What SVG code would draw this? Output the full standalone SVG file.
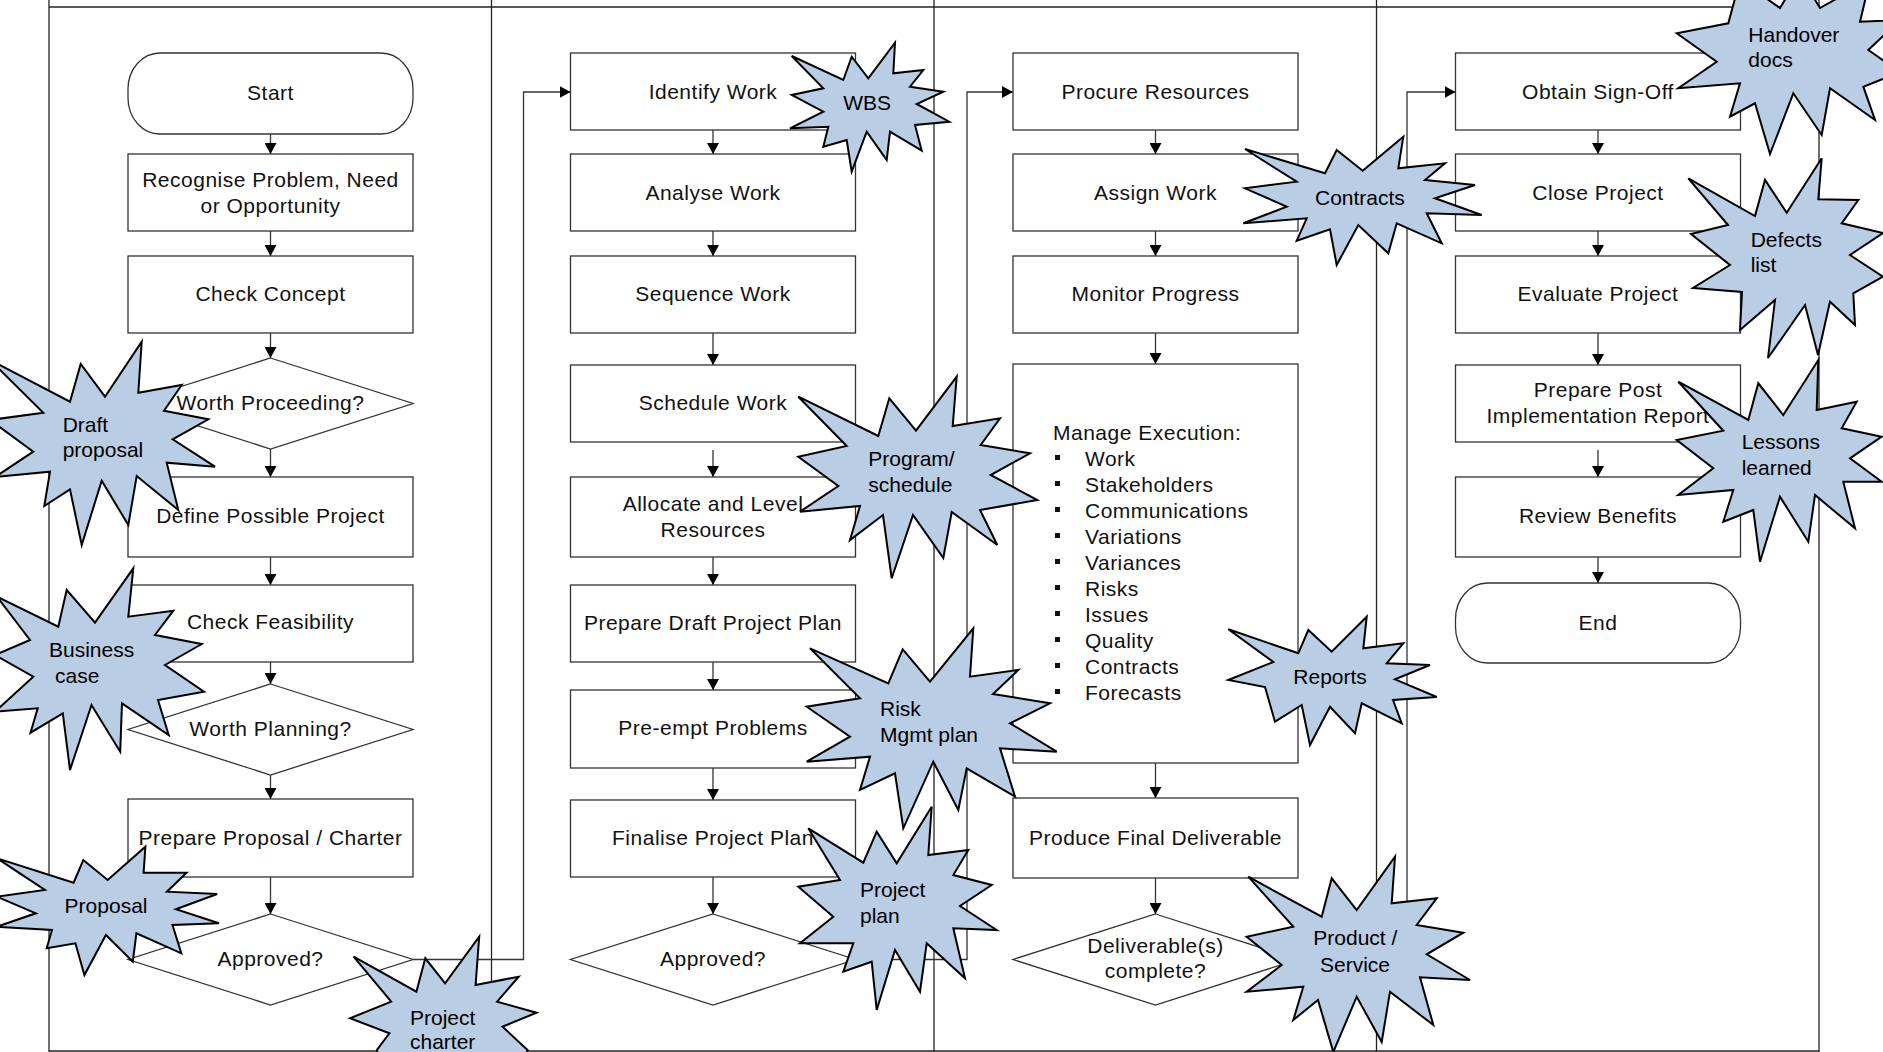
<svg xmlns="http://www.w3.org/2000/svg" width="1883" height="1052" viewBox="0 0 1883 1052">
<defs>
<style>
.lane{stroke:#222;stroke-width:1.3;fill:none}
.box{fill:#fff;stroke:#333;stroke-width:1.3}
.t{font-family:"Liberation Sans",Arial,sans-serif;font-size:21px;letter-spacing:0.5px;fill:#111;text-anchor:middle}
.tl{font-family:"Liberation Sans",Arial,sans-serif;font-size:21px;letter-spacing:0.5px;fill:#111}
.conn{stroke:#333;stroke-width:1.3;fill:none}
.star{fill:#b9cde5;stroke:#000;stroke-width:2;stroke-linejoin:miter}
.st{font-family:"Liberation Sans",Arial,sans-serif;font-size:21px;fill:#000}
</style>
<marker id="arr" viewBox="0 0 12 12" refX="11" refY="6" markerWidth="12" markerHeight="12" markerUnits="userSpaceOnUse" orient="auto"><path d="M0,0 L11,6 L0,12 z" fill="#000"/></marker>
</defs>
<rect width="1883" height="1052" fill="#fff"/>
<g id="lanes" class="lane">
<line x1="49" y1="0" x2="49" y2="1052"/>
<line x1="491.5" y1="0" x2="491.5" y2="1052"/>
<line x1="934" y1="0" x2="934" y2="1052"/>
<line x1="1376.5" y1="0" x2="1376.5" y2="1052"/>
<line x1="1819" y1="0" x2="1819" y2="1052"/>
<line x1="49" y1="7" x2="1819" y2="7"/>
<line x1="49" y1="1051" x2="1819" y2="1051"/>
</g>
<g id="connectors" class="conn">
<path d="M270.5,134V154" marker-end="url(#arr)"/>
<path d="M270.5,231V256" marker-end="url(#arr)"/>
<path d="M270.5,333V358" marker-end="url(#arr)"/>
<path d="M270.5,449V477" marker-end="url(#arr)"/>
<path d="M270.5,557V585" marker-end="url(#arr)"/>
<path d="M270.5,662V684" marker-end="url(#arr)"/>
<path d="M270.5,775V799" marker-end="url(#arr)"/>
<path d="M270.5,877V914" marker-end="url(#arr)"/>
<path d="M413,959.5H523.5V92H570.5" marker-end="url(#arr)"/>
<path d="M713,130V154" marker-end="url(#arr)"/>
<path d="M713,231V256" marker-end="url(#arr)"/>
<path d="M713,333V365" marker-end="url(#arr)"/>
<path d="M713,450V477" marker-end="url(#arr)"/>
<path d="M713,557V585" marker-end="url(#arr)"/>
<path d="M713,662V690" marker-end="url(#arr)"/>
<path d="M713,768V800" marker-end="url(#arr)"/>
<path d="M713,877V914" marker-end="url(#arr)"/>
<path d="M855.5,959.5H967V92H1013" marker-end="url(#arr)"/>
<path d="M1155.5,130V154" marker-end="url(#arr)"/>
<path d="M1155.5,231V256" marker-end="url(#arr)"/>
<path d="M1155.5,333V364" marker-end="url(#arr)"/>
<path d="M1155.5,763V798" marker-end="url(#arr)"/>
<path d="M1155.5,878V914" marker-end="url(#arr)"/>
<path d="M1298,959.5H1407V92H1455.5" marker-end="url(#arr)"/>
<path d="M1598,130V154" marker-end="url(#arr)"/>
<path d="M1598,231V256" marker-end="url(#arr)"/>
<path d="M1598,333V365" marker-end="url(#arr)"/>
<path d="M1598,450V477" marker-end="url(#arr)"/>
<path d="M1598,557V583" marker-end="url(#arr)"/>
</g>
<g id="n-start"><rect class="box" x="128" y="53" width="285" height="81" rx="32" ry="36"/><text class="t" x="270.5" y="100">Start</text></g>
<g id="n-recognise"><rect class="box" x="128" y="154" width="285" height="77"/><text class="t" x="270.5" y="187">Recognise Problem, Need</text><text class="t" x="270.5" y="213">or Opportunity</text></g>
<g id="n-concept"><rect class="box" x="128" y="256" width="285" height="77"/><text class="t" x="270.5" y="301">Check Concept</text></g>
<g id="n-worth-proceeding"><polygon class="box" points="270.5,358 413,403.5 270.5,449 128,403.5"/><text class="t" x="270.5" y="410">Worth Proceeding?</text></g>
<g id="n-define"><rect class="box" x="128" y="477" width="285" height="80"/><text class="t" x="270.5" y="523">Define Possible Project</text></g>
<g id="n-feasibility"><rect class="box" x="128" y="585" width="285" height="77"/><text class="t" x="270.5" y="629">Check Feasibility</text></g>
<g id="n-worth-planning"><polygon class="box" points="270.5,684 413,729.5 270.5,775 128,729.5"/><text class="t" x="270.5" y="736">Worth Planning?</text></g>
<g id="n-proposal"><rect class="box" x="128" y="799" width="285" height="78"/><text class="t" x="270.5" y="845">Prepare Proposal / Charter</text></g>
<g id="n-approved1"><polygon class="box" points="270.5,914 413,959.5 270.5,1005 128,959.5"/><text class="t" x="270.5" y="966">Approved?</text></g>

<g id="n-identify"><rect class="box" x="570.5" y="53" width="285" height="77"/><text class="t" x="713" y="99">Identify Work</text></g>
<g id="n-analyse"><rect class="box" x="570.5" y="154" width="285" height="77"/><text class="t" x="713" y="200">Analyse Work</text></g>
<g id="n-sequence"><rect class="box" x="570.5" y="256" width="285" height="77"/><text class="t" x="713" y="301">Sequence Work</text></g>
<g id="n-schedule"><rect class="box" x="570.5" y="365" width="285" height="77"/><text class="t" x="713" y="410">Schedule Work</text></g>
<g id="n-allocate"><rect class="box" x="570.5" y="477" width="285" height="80"/><text class="t" x="713" y="511">Allocate and Level</text><text class="t" x="713" y="537">Resources</text></g>
<g id="n-draftplan"><rect class="box" x="570.5" y="585" width="285" height="77"/><text class="t" x="713" y="630">Prepare Draft Project Plan</text></g>
<g id="n-preempt"><rect class="box" x="570.5" y="690" width="285" height="78"/><text class="t" x="713" y="735">Pre-empt Problems</text></g>
<g id="n-finalise"><rect class="box" x="570.5" y="800" width="285" height="77"/><text class="t" x="713" y="845">Finalise Project Plan</text></g>
<g id="n-approved2"><polygon class="box" points="713,914 855.5,959.5 713,1005 570.5,959.5"/><text class="t" x="713" y="966">Approved?</text></g>

<g id="n-procure"><rect class="box" x="1013" y="53" width="285" height="77"/><text class="t" x="1155.5" y="99">Procure Resources</text></g>
<g id="n-assign"><rect class="box" x="1013" y="154" width="285" height="77"/><text class="t" x="1155.5" y="200">Assign Work</text></g>
<g id="n-monitor"><rect class="box" x="1013" y="256" width="285" height="77"/><text class="t" x="1155.5" y="301">Monitor Progress</text></g>
<g id="n-manage"><rect class="box" x="1013" y="364" width="285" height="399"/>
<text class="tl" x="1053" y="440">Manage Execution:</text>
<g fill="#111"><rect x="1055" y="455" width="5" height="5"/><rect x="1055" y="481" width="5" height="5"/><rect x="1055" y="507" width="5" height="5"/><rect x="1055" y="533" width="5" height="5"/><rect x="1055" y="559" width="5" height="5"/><rect x="1055" y="585" width="5" height="5"/><rect x="1055" y="611" width="5" height="5"/><rect x="1055" y="637" width="5" height="5"/><rect x="1055" y="663" width="5" height="5"/><rect x="1055" y="689" width="5" height="5"/></g>
<text class="tl" x="1085" y="466">Work</text><text class="tl" x="1085" y="492">Stakeholders</text><text class="tl" x="1085" y="518">Communications</text><text class="tl" x="1085" y="544">Variations</text><text class="tl" x="1085" y="570">Variances</text><text class="tl" x="1085" y="596">Risks</text><text class="tl" x="1085" y="622">Issues</text><text class="tl" x="1085" y="648">Quality</text><text class="tl" x="1085" y="674">Contracts</text><text class="tl" x="1085" y="700">Forecasts</text></g>
<g id="n-produce"><rect class="box" x="1013" y="798" width="285" height="80"/><text class="t" x="1155.5" y="845">Produce Final Deliverable</text></g>
<g id="n-complete"><polygon class="box" points="1155.5,914 1298,959.5 1155.5,1005 1013,959.5"/><text class="t" x="1155.5" y="953">Deliverable(s)</text><text class="t" x="1155.5" y="978">complete?</text></g>

<g id="n-signoff"><rect class="box" x="1455.5" y="53" width="285" height="77"/><text class="t" x="1598" y="99">Obtain Sign-Off</text></g>
<g id="n-close"><rect class="box" x="1455.5" y="154" width="285" height="77"/><text class="t" x="1598" y="200">Close Project</text></g>
<g id="n-evaluate"><rect class="box" x="1455.5" y="256" width="285" height="77"/><text class="t" x="1598" y="301">Evaluate Project</text></g>
<g id="n-pir"><rect class="box" x="1455.5" y="365" width="285" height="77"/><text class="t" x="1598" y="397">Prepare Post</text><text class="t" x="1598" y="423">Implementation Report</text></g>
<g id="n-benefits"><rect class="box" x="1455.5" y="477" width="285" height="80"/><text class="t" x="1598" y="523">Review Benefits</text></g>
<g id="n-end"><rect class="box" x="1455.5" y="583" width="285" height="80" rx="32" ry="36"/><text class="t" x="1598" y="630">End</text></g>

<g id="s-draft"><polygon class="star" points="-10,360 70,401.7 80.7,364 105,396.7 141.7,341.7 138.3,392.7 181.7,385 164,410.7 208.3,419.3 172.7,439.3 215,466.7 166.7,462.7 178.3,510 136.7,476 128.3,525 101.7,480.7 81.7,545 70,489.3 44.3,506 50,471.7 -5,477 33.3,451.7 -10,420 43.3,412.7"/><text class="st" x="62.7" y="431.7">Draft</text><text class="st" x="62.7" y="457.3">proposal</text></g>
<g id="s-business"><polygon class="star" points="133.3,568.3 128.3,616.7 173.3,610.7 155,635 201.7,644 165,665 204,691.7 158,700 168.7,735 122,703.3 120.2,751.7 91.5,705 70,770 62.8,713.3 30.5,732.7 37.7,708.3 -5,711.7 33.3,676.7 -5,655 30,640 -3,596.7 58.3,626.7 66.7,590 95,622.7"/><text class="st" x="49" y="657.3">Business</text><text class="st" x="55" y="683.3">case</text></g>
<g id="s-proposal"><polygon class="star" points="145.4,846.7 143.6,872.7 186.6,872.7 166.9,891.7 217.2,894 175.9,909.3 219,923.3 172.5,925 181.3,953.3 136.4,933.3 132.8,961.7 105.9,935 84.4,975 75.4,943.3 46.7,948.3 52,930 -3,926.7 35.9,913.3 -3,896.7 44.9,890 -3,858.3 73.6,882.7 83.3,860 107.7,880"/><text class="st" x="64.6" y="913.3">Proposal</text></g>
<g id="s-charter"><polygon class="star" points="479.2,936.7 475.6,985 518.7,976.7 497.1,1001.7 536.6,1012.7 502.5,1026.7 527.6,1050 520,1070 380,1070 376.9,1050 389.4,1033.3 350,1018.3 391.2,1001.7 353.6,956.7 416.4,991.7 425.3,958.3 445.1,983.3"/><text class="st" x="410" y="1025">Project</text><text class="st" x="410" y="1049">charter</text></g>
<g id="s-wbs"><polygon class="star" points="791.7,56 843.3,80 851.7,56.7 868.3,78.3 895,42.7 893.3,73.3 923.3,70 910,86.7 943.3,91.7 916.7,104 949.3,121.7 915,125 921.7,150.7 890,131.7 886.7,160 866.7,131.7 851.7,171.7 846.7,140 823.3,146.7 828.3,126.7 790,128.3 823.3,111.7 791.7,95 823.3,88.3"/><text class="st" x="843.3" y="110">WBS</text></g>
<g id="s-program"><polygon class="star" points="798.3,396.7 878.3,436 889.3,398.3 916,430.7 956.7,376.7 952.7,426 1000,418.3 980.7,445 1030,453.3 990.7,475 1037.3,500 980,510 997.3,545 951.7,512 943.3,558 913,515 891.7,578.3 883,515 850,540 860,506 800,511.7 838.3,486 798.3,456.7 846.7,446"/><text class="st" x="868.3" y="466">Program/</text><text class="st" x="868.3" y="491.7">schedule</text></g>
<g id="s-risk"><polygon class="star" points="810,648.3 888.3,683.3 902.7,649.3 930,681.7 973.3,628.3 970,676.7 1018.3,670 993,694 1050,703.3 1010,723.3 1056.7,751.7 1000,748.3 1015,796.7 966.7,768.3 958.3,810 933.3,761.7 903.3,828.3 895,773.3 860,790 870,756.7 806.7,761.7 850,736.7 806.7,706.7 860,698.3"/><text class="st" x="880" y="716">Risk</text><text class="st" x="880" y="741.7">Mgmt plan</text></g>
<g id="s-plan"><polygon class="star" points="931.7,806.7 928.3,855 968.3,850 953.3,875 991.7,885 960,906 996.7,930 953.3,928.3 965,978.3 926.7,943.3 920,991.7 895,950 876.7,1010 871.7,961.7 843.3,971.7 853.3,943.3 800,943.3 833.3,916.7 798.3,886.7 840,880 808.3,828.3 863.3,862.7 876.7,831.7 896.7,863.3"/><text class="st" x="860" y="897.3">Project</text><text class="st" x="860" y="922.7">plan</text></g>
<g id="s-contracts"><polygon class="star" points="1245,149 1296.7,181.7 1245,188.3 1286.7,206.7 1243.3,223.3 1306.7,218.3 1296.7,240.7 1330,229.3 1336.7,265 1358.3,225 1388.3,253.3 1396.7,223.3 1441.7,243.3 1426.7,213.3 1481.7,215 1435,198.3 1475,185 1425,180 1445,163.3 1398.3,168.3 1403.3,136.7 1362.7,170.7 1336.7,150 1325,173.3"/><text class="st" x="1315" y="205">Contracts</text></g>
<g id="s-reports"><polygon class="star" points="1228.3,629.3 1298.3,653.3 1308.3,630 1331.7,651.7 1366.7,616.7 1363.3,648.3 1403.3,643.3 1386.7,663.3 1430,665 1395,679.3 1436.7,697 1393,700 1401.7,723.3 1361.7,703.3 1355,733.3 1330,706.7 1310,745 1301.7,705 1275,721.7 1265,687 1228.3,680 1273.3,662"/><text class="st" x="1293.3" y="684">Reports</text></g>
<g id="s-product"><polygon class="star" points="1248.3,876.7 1321.7,916.7 1331.7,878.3 1356.7,910 1395,856.7 1391.7,903.3 1436.7,898.3 1416.7,925 1463.3,932.7 1426.7,954.3 1470,980 1420,977.3 1433.3,1025 1390,991.7 1381.7,1042 1356.7,996.7 1333.3,1052 1318,1000 1293.3,1020 1303.3,986.7 1246.7,991.7 1281.7,965 1246.7,936.7 1293.3,926.7"/><text class="st" x="1313.3" y="945">Product /</text><text class="st" x="1320" y="971.7">Service</text></g>
<g id="s-handover"><polygon class="star" points="1676.7,33.3 1716.7,61.7 1678.3,88.3 1740,83.3 1730,116.7 1755,103.3 1770,154 1793.3,93.3 1821.7,135 1830,88.3 1875,120 1863.3,86.7 1900,72 1868.3,50 1900,20 1860,21.7 1870,-20 1820,8 1800,-25 1780,8 1740,-20 1728.3,23.3"/><text class="st" x="1748.3" y="41.7">Handover</text><text class="st" x="1748.3" y="66.7">docs</text></g>
<g id="s-defects"><polygon class="star" points="1688.3,178.3 1755,216 1765,180 1786.7,212.7 1821.7,158.3 1818.3,199.3 1858.3,200 1841.7,223.3 1883,233 1850,255 1883,276.7 1853.3,293.3 1855,325 1830,301.7 1818,355 1805,305 1768,358 1775,300 1740,330 1742,292 1693,288 1730,265 1691,234 1728,225"/><text class="st" x="1750.7" y="246.7">Defects</text><text class="st" x="1750.7" y="271.7">list</text></g>
<g id="s-lessons"><polygon class="star" points="1678.3,381.7 1748.3,420 1758.3,383.3 1783.3,415 1818.3,360 1816.7,410 1856.7,401.7 1841.7,428.3 1881.7,436.7 1850,458.3 1881.7,481.7 1843.3,481.7 1855,528.3 1815,495 1808.3,541.7 1780,496.7 1760,561.7 1753.3,510 1723.3,521.7 1733.3,490 1678.3,495 1713.3,468.3 1676.7,440 1723.3,430.7"/><text class="st" x="1741.7" y="449.3">Lessons</text><text class="st" x="1741.7" y="475">learned</text></g>
</svg>
